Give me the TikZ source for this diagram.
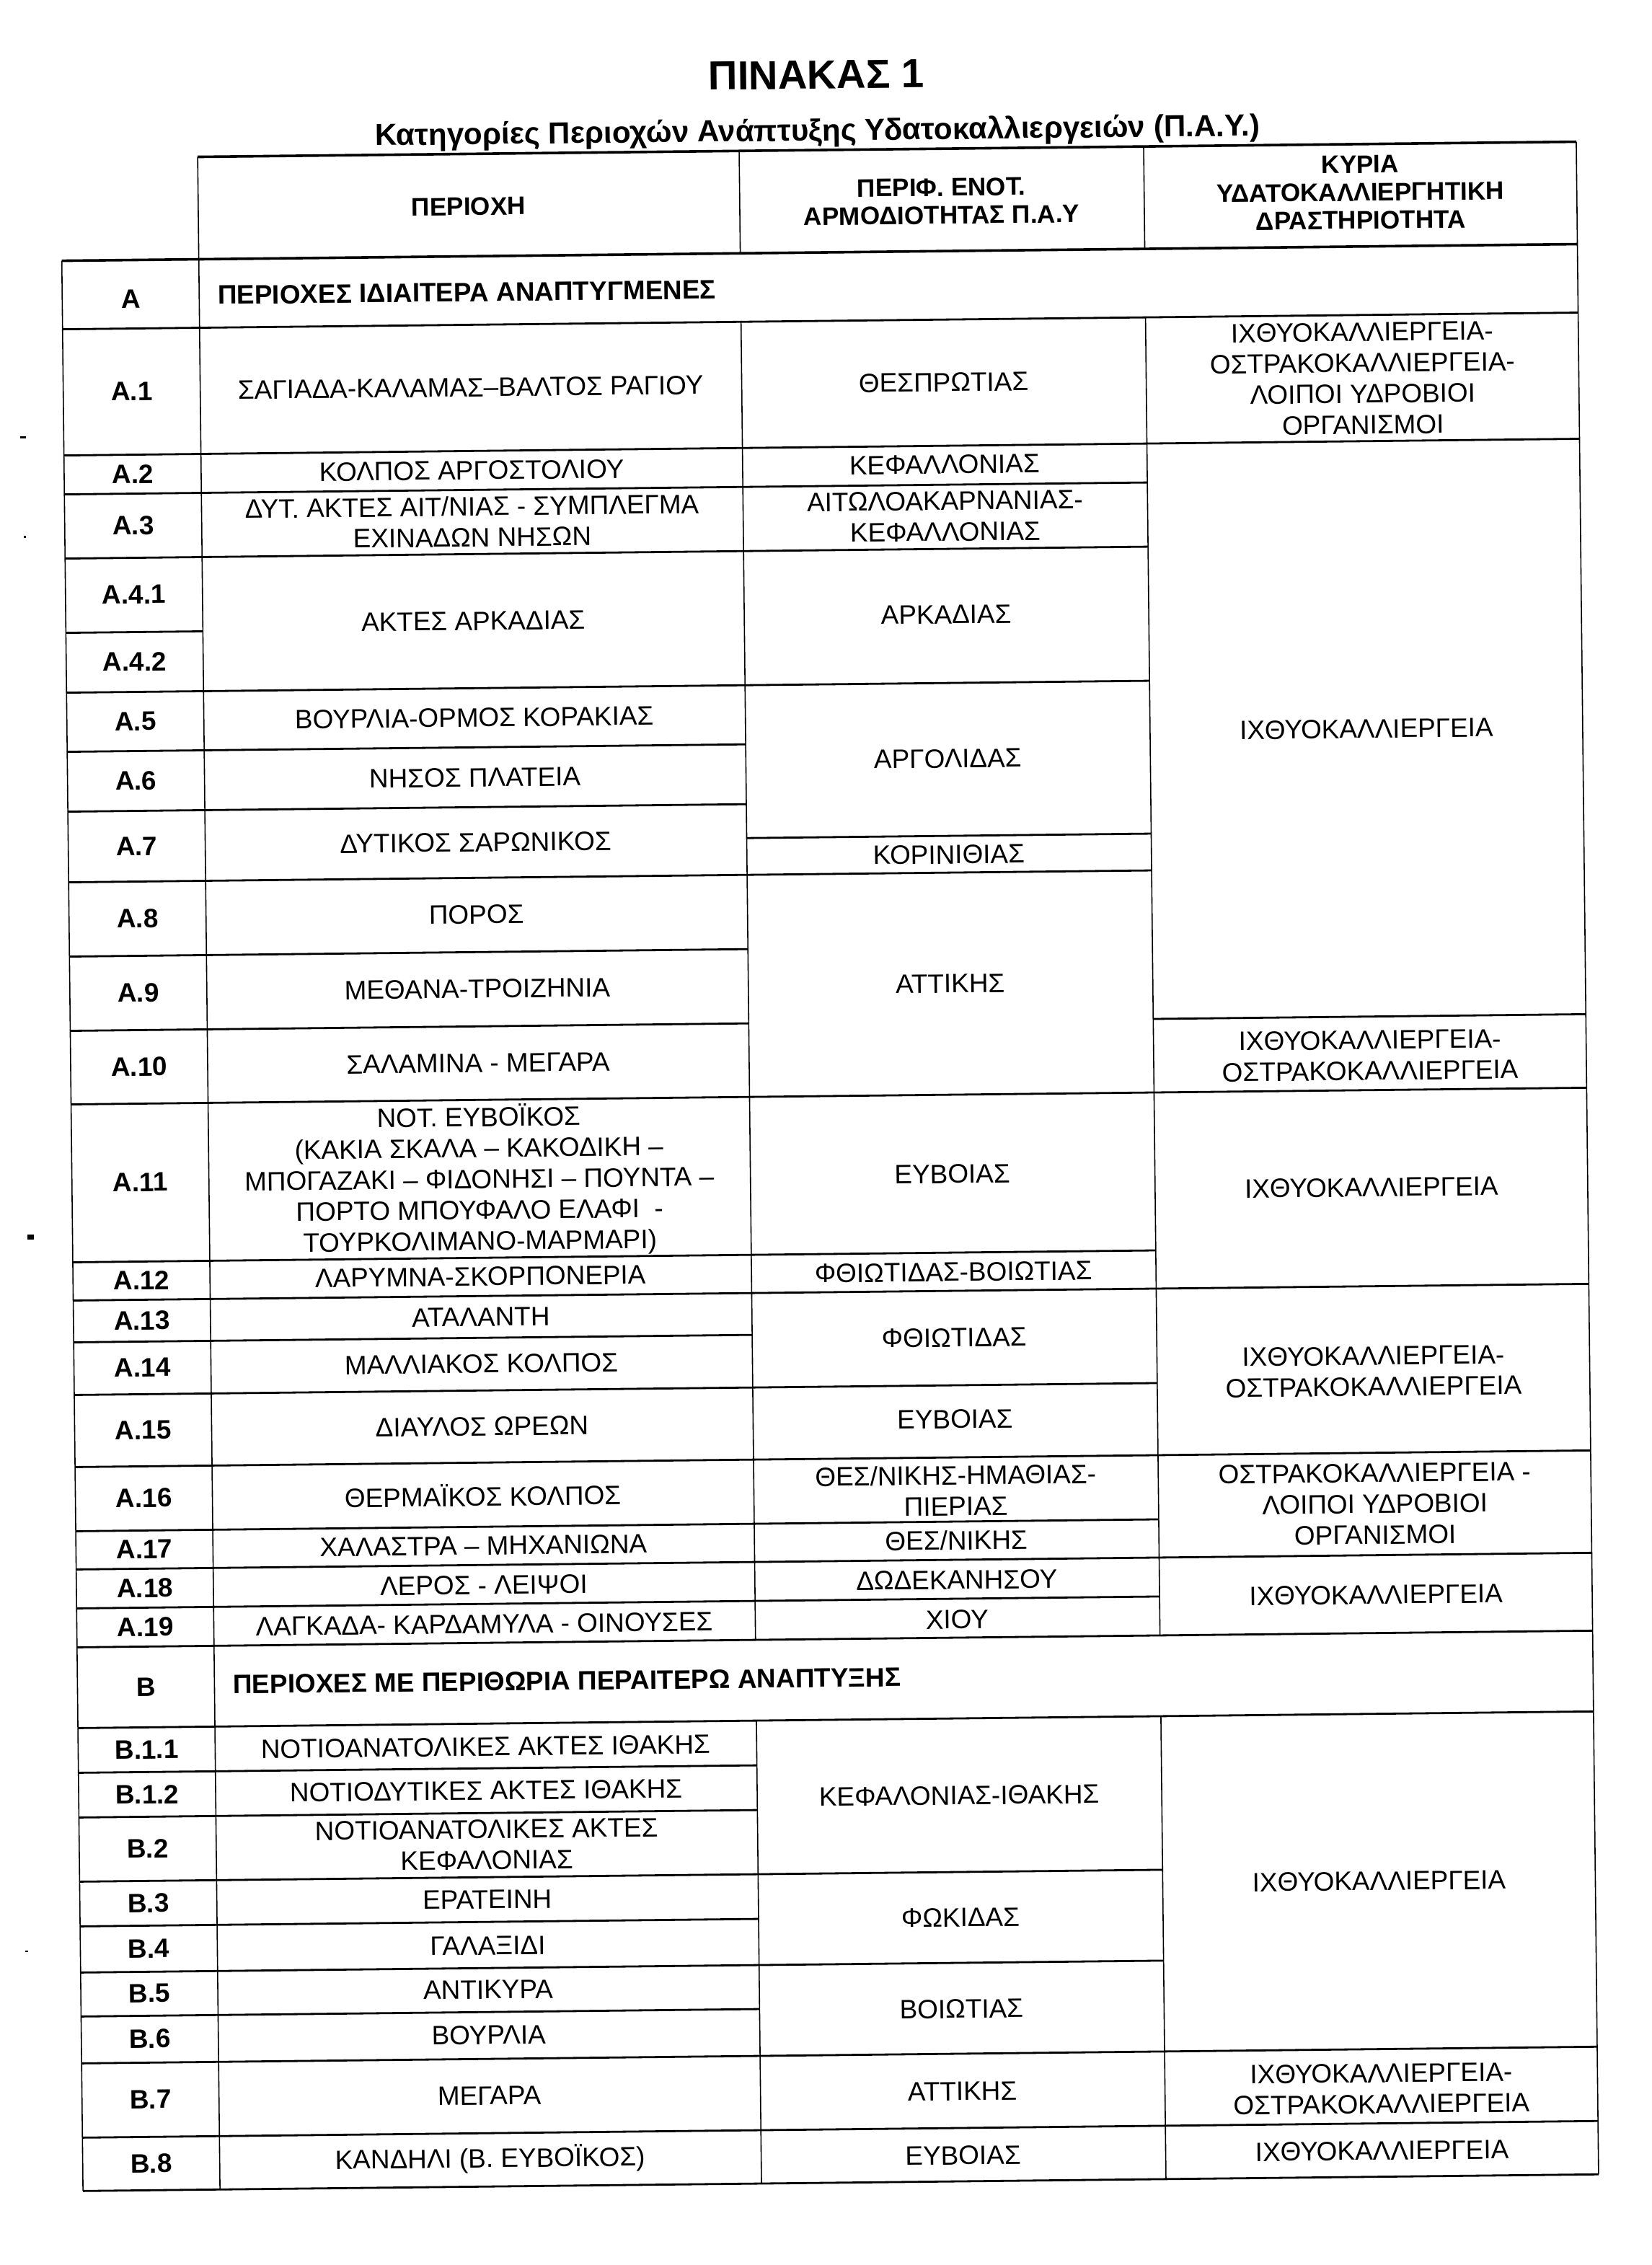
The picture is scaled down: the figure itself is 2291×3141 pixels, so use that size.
\documentclass[tikz,border=0pt]{standalone}
\usepackage{fontspec}
\setmainfont{Liberation Sans}
\tikzset{
  cell/.style={font=\fontsize{10.5}{12.2}\selectfont, align=center, inner sep=0pt},
  lbl/.style={font=\fontsize{10.5}{12.2}\selectfont\bfseries, inner sep=0pt},
  sect/.style={font=\fontsize{10.5}{12.2}\selectfont\bfseries, anchor=west, inner sep=0pt},
  head/.style={font=\fontsize{10}{11}\selectfont\bfseries, align=center, inner sep=0pt},
  hrule/.style={line width=0.28mm},
  vrule/.style={line width=0.16mm},
  heavy/.style={line width=0.36mm},
}
\begin{document}
\begin{tikzpicture}[x=0.1mm,y=-0.1mm]
\fill[white] (0,0) rectangle (2291,3141);
\useasboundingbox (0,0) rectangle (2291,3141);
\fill (28,605) rectangle (36,607.5);
\fill (33,743) rectangle (36,746);
\fill (38,1712) rectangle (47,1719);
\fill (35,2705) rectangle (39,2707);

\begin{scope}[rotate around={0.63:(1145,1570)}, transform shape]
    \path (1148,123) node [anchor=base, font=\fontsize{16}{19}\selectfont\bfseries] (title) {ΠΙΝΑΚΑΣ 1};
    \path (1149,195) node [anchor=base, font=\fontsize{12}{14}\selectfont\bfseries] (subtitle)
	{Κατηγορίες Περιοχών Ανάπτυξης Υδατοκαλλιεργειών (Π.Α.Υ.)};

    \draw [vrule] (99,350) -- (99,3027);
    \draw [vrule] (289,208) -- (289,3027);
    \draw [vrule] (1040,208) -- (1040,350) (1040,445) -- (1040,2273) (1040,2385) -- (1040,3027);
    \draw [vrule] (1601,208) -- (1601,350) (1601,445) -- (1601,2273) (1601,2385) -- (1601,3027);
    \draw [vrule] (2201,208) -- (2201,3027);

    \draw [heavy] (289,208) -- (2201,208);
    \draw [heavy] (99,350) -- (2201,350);
    \draw [hrule] (99,445) -- (2201,445) (99,2273) -- (2201,2273)
	(99,2385) -- (2201,2385) (99,3027) -- (2201,3027);
    \foreach \yy in {620,674,763,866,949,1031,1114,1212,1315,1418,1520,1739,1792,1850,1923,
	2023,2112,2165,2219,2447,2509,2598,2660,2724,2785,2850,2953}
	\draw [hrule] (99,\yy) -- (289,\yy);
    \foreach \yy in {620,674,763,949,1031,1114,1212,1315,1418,1520,1739,1792,1850,1923,
	2023,2112,2165,2219,2447,2509,2598,2660,2724,2785,2850,2953}
	\draw [hrule] (289,\yy) -- (1040,\yy);
    \foreach \yy in {620,674,763,949,1161,1212,1520,1739,1792,1923,2023,2112,2165,2219,
	2598,2724,2850,2953}
	\draw [hrule] (1040,\yy) -- (1601,\yy);
    \foreach \yy in {620,1418,1520,1792,2023,2165,2850,2953}
	\draw [hrule] (1601,\yy) -- (2201,\yy);

    \path (664,281) node [head] (h1) {ΠΕΡΙΟΧΗ};
    \path (1320,281) node [head] (h2) {ΠΕΡΙΦ. ΕΝΟΤ.\\ΑΡΜΟΔΙΟΤΗΤΑΣ Π.Α.Υ};
    \path (1901,275) node [head] (h3) {ΚΥΡΙΑ\\ΥΔΑΤΟΚΑΛΛΙΕΡΓΗΤΙΚΗ\\ΔΡΑΣΤΗΡΙΟΤΗΤΑ};

    \path (194,404) node [lbl] (secA) {A};
    \path (314,400) node [sect] (secAt) {ΠΕΡΙΟΧΕΣ ΙΔΙΑΙΤΕΡΑ ΑΝΑΠΤΥΓΜΕΝΕΣ};
    \path (194,2329) node [lbl] (secB) {B};
    \path (314,2327) node [sect] (secBt) {ΠΕΡΙΟΧΕΣ ΜΕ ΠΕΡΙΘΩΡΙΑ ΠΕΡΑΙΤΕΡΩ ΑΝΑΠΤΥΞΗΣ};

    \foreach \lab/\yy [count=\i] in {A.1/532,A.2/647,A.3/718,A.4.1/814,A.4.2/907,A.5/990,
	A.6/1072,A.7/1163,A.8/1263,A.9/1366,A.10/1469,A.11/1629,A.12/1765,A.13/1821,
	A.14/1886,A.15/1973,A.16/2067,A.17/2138,A.18/2192,A.19/2246,B.1.1/2416,
	B.1.2/2478,B.2/2553,B.3/2629,B.4/2692,B.5/2754,B.6/2817,B.7/2901,B.8/2990}
	\path (194,\yy) node [lbl] (lab\i) {\lab};

    \path (664,532) node [cell] (r1) {ΣΑΓΙΑΔΑ-ΚΑΛΑΜΑΣ–ΒΑΛΤΟΣ ΡΑΓΙΟΥ};
    \path (664,647) node [cell] (r2) {ΚΟΛΠΟΣ ΑΡΓΟΣΤΟΛΙΟΥ};
    \path (664,718) node [cell] (r3) {ΔΥΤ. ΑΚΤΕΣ ΑΙΤ/ΝΙΑΣ - ΣΥΜΠΛΕΓΜΑ\\ΕΧΙΝΑΔΩΝ ΝΗΣΩΝ};
    \path (664,856) node [cell] (r4) {ΑΚΤΕΣ ΑΡΚΑΔΙΑΣ};
    \path (664,990) node [cell] (r5) {ΒΟΥΡΛΙΑ-ΟΡΜΟΣ ΚΟΡΑΚΙΑΣ};
    \path (664,1073) node [cell] (r6) {ΝΗΣΟΣ ΠΛΑΤΕΙΑ};
    \path (664,1163) node [cell] (r7) {ΔΥΤΙΚΟΣ ΣΑΡΩΝΙΚΟΣ};
    \path (664,1263) node [cell] (r8) {ΠΟΡΟΣ};
    \path (664,1366) node [cell] (r9) {ΜΕΘΑΝΑ-ΤΡΟΙΖΗΝΙΑ};
    \path (664,1469) node [cell] (r10) {ΣΑΛΑΜΙΝΑ - ΜΕΓΑΡΑ};
    \path (664,1631) node [cell] (r11) {ΝΟΤ. ΕΥΒΟΪΚΟΣ\\(ΚΑΚΙΑ ΣΚΑΛΑ – ΚΑΚΟΔΙΚΗ –\\ΜΠΟΓΑΖΑΚΙ – ΦΙΔΟΝΗΣΙ – ΠΟΥΝΤΑ –\\ΠΟΡΤΟ ΜΠΟΥΦΑΛΟ ΕΛΑΦΙ \ -\\ΤΟΥΡΚΟΛΙΜΑΝΟ-ΜΑΡΜΑΡΙ)};
    \path (664,1765) node [cell] (r12) {ΛΑΡΥΜΝΑ-ΣΚΟΡΠΟΝΕΡΙΑ};
    \path (664,1821) node [cell] (r13) {ΑΤΑΛΑΝΤΗ};
    \path (664,1886) node [cell] (r14) {ΜΑΛΛΙΑΚΟΣ ΚΟΛΠΟΣ};
    \path (664,1973) node [cell] (r15) {ΔΙΑΥΛΟΣ ΩΡΕΩΝ};
    \path (664,2068) node [cell] (r16) {ΘΕΡΜΑΪΚΟΣ ΚΟΛΠΟΣ};
    \path (664,2138) node [cell] (r17) {ΧΑΛΑΣΤΡΑ – ΜΗΧΑΝΙΩΝΑ};
    \path (664,2193) node [cell] (r18) {ΛΕΡΟΣ - ΛΕΙΨΟΙ};
    \path (664,2247) node [cell] (r19) {ΛΑΓΚΑΔΑ- ΚΑΡΔΑΜΥΛΑ - ΟΙΝΟΥΣΕΣ};
    \path (664,2417) node [cell] (r20) {ΝΟΤΙΟΑΝΑΤΟΛΙΚΕΣ ΑΚΤΕΣ ΙΘΑΚΗΣ};
    \path (664,2478) node [cell] (r21) {ΝΟΤΙΟΔΥΤΙΚΕΣ ΑΚΤΕΣ ΙΘΑΚΗΣ};
    \path (664,2553) node [cell] (r22) {ΝΟΤΙΟΑΝΑΤΟΛΙΚΕΣ ΑΚΤΕΣ\\ΚΕΦΑΛΟΝΙΑΣ};
    \path (664,2629) node [cell] (r23) {ΕΡΑΤΕΙΝΗ};
    \path (664,2693) node [cell] (r24) {ΓΑΛΑΞΙΔΙ};
    \path (664,2754) node [cell] (r25) {ΑΝΤΙΚΥΡΑ};
    \path (664,2817) node [cell] (r26) {ΒΟΥΡΛΙΑ};
    \path (664,2901) node [cell] (r27) {ΜΕΓΑΡΑ};
    \path (664,2989) node [cell] (r28) {ΚΑΝΔΗΛΙ (Β. ΕΥΒΟΪΚΟΣ)};

    \path (1320,532) node [cell] (p1) {ΘΕΣΠΡΩΤΙΑΣ};
    \path (1320,646) node [cell] (p2) {ΚΕΦΑΛΛΟΝΙΑΣ};
    \path (1320,718) node [cell] (p3) {ΑΙΤΩΛΟΑΚΑΡΝΑΝΙΑΣ-\\ΚΕΦΑΛΛΟΝΙΑΣ};
    \path (1320,854) node [cell] (p4) {ΑΡΚΑΔΙΑΣ};
    \path (1320,1054) node [cell] (p5) {ΑΡΓΟΛΙΔΑΣ};
    \path (1320,1187) node [cell] (p6) {ΚΟΡΙΝΙΘΙΑΣ};
    \path (1320,1366) node [cell] (p7) {ΑΤΤΙΚΗΣ};
    \path (1320,1630) node [cell] (p8) {ΕΥΒΟΙΑΣ};
    \path (1320,1766) node [cell] (p9) {ΦΘΙΩΤΙΔΑΣ-ΒΟΙΩΤΙΑΣ};
    \path (1320,1857) node [cell] (p10) {ΦΘΙΩΤΙΔΑΣ};
    \path (1320,1970) node [cell] (p11) {ΕΥΒΟΙΑΣ};
    \path (1320,2069) node [cell] (p12) {ΘΕΣ/ΝΙΚΗΣ-ΗΜΑΘΙΑΣ-\\ΠΙΕΡΙΑΣ};
    \path (1320,2138) node [cell] (p13) {ΘΕΣ/ΝΙΚΗΣ};
    \path (1320,2193) node [cell] (p14) {ΔΩΔΕΚΑΝΗΣΟΥ};
    \path (1320,2248) node [cell] (p15) {ΧΙΟΥ};
    \path (1320,2492) node [cell] (p16) {ΚΕΦΑΛΟΝΙΑΣ-ΙΘΑΚΗΣ};
    \path (1320,2661) node [cell] (p17) {ΦΩΚΙΔΑΣ};
    \path (1320,2788) node [cell] (p18) {ΒΟΙΩΤΙΑΣ};
    \path (1320,2902) node [cell] (p19) {ΑΤΤΙΚΗΣ};
    \path (1320,2991) node [cell] (p20) {ΕΥΒΟΙΑΣ};

    \path (1901,533) node [cell] (a1) {ΙΧΘΥΟΚΑΛΛΙΕΡΓΕΙΑ-\\ΟΣΤΡΑΚΟΚΑΛΛΙΕΡΓΕΙΑ-\\ΛΟΙΠΟΙ ΥΔΡΟΒΙΟΙ\\ΟΡΓΑΝΙΣΜΟΙ};
    \path (1901,1019) node [cell] (a2) {ΙΧΘΥΟΚΑΛΛΙΕΡΓΕΙΑ};
    \path (1901,1472) node [cell] (a3) {ΙΧΘΥΟΚΑΛΛΙΕΡΓΕΙΑ-\\ΟΣΤΡΑΚΟΚΑΛΛΙΕΡΓΕΙΑ};
    \path (1901,1655) node [cell] (a4) {ΙΧΘΥΟΚΑΛΛΙΕΡΓΕΙΑ};
    \path (1901,1910) node [cell] (a5) {ΙΧΘΥΟΚΑΛΛΙΕΡΓΕΙΑ-\\ΟΣΤΡΑΚΟΚΑΛΛΙΕΡΓΕΙΑ};
    \path (1901,2094) node [cell] (a6) {ΟΣΤΡΑΚΟΚΑΛΛΙΕΡΓΕΙΑ -\\ΛΟΙΠΟΙ ΥΔΡΟΒΙΟΙ\\ΟΡΓΑΝΙΣΜΟΙ};
    \path (1901,2220) node [cell] (a7) {ΙΧΘΥΟΚΑΛΛΙΕΡΓΕΙΑ};
    \path (1901,2617) node [cell] (a8) {ΙΧΘΥΟΚΑΛΛΙΕΡΓΕΙΑ};
    \path (1901,2905) node [cell] (a9) {ΙΧΘΥΟΚΑΛΛΙΕΡΓΕΙΑ-\\ΟΣΤΡΑΚΟΚΑΛΛΙΕΡΓΕΙΑ};
    \path (1901,2991) node [cell] (a10) {ΙΧΘΥΟΚΑΛΛΙΕΡΓΕΙΑ};
\end{scope}
\end{tikzpicture}
\end{document}
